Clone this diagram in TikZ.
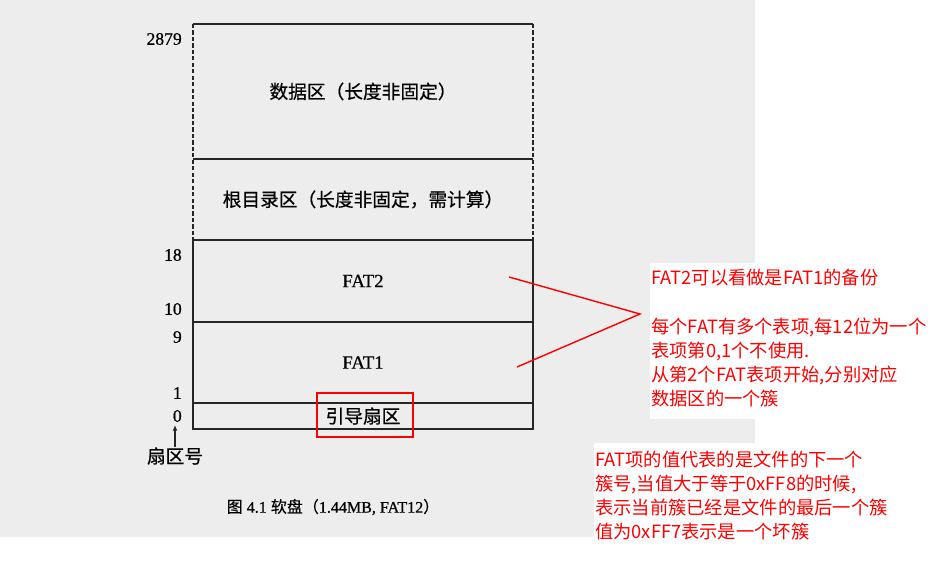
\documentclass[tikz,border=0pt]{standalone}
\usepackage{fontspec}
\setmainfont{Liberation Serif}
\newfontfamily\bookfont[FakeBold=0.7]{Liberation Serif}
\newfontfamily\cjk{Noto Sans CJK SC}
\newfontfamily\cjkbook[FakeBold=0.5]{Noto Sans CJK SC}
\usetikzlibrary{arrows.meta, positioning}

\begin{document}
\begin{tikzpicture}[x=0.025cm, y=-0.025cm, node distance=0pt, >={Latex[length=4pt,width=3.5pt]},
    zone/.style={minimum width=8.5cm, inner sep=0pt, outer sep=0pt, font=\bookfont\fontsize{13.3}{16}\selectfont},
    solidzone/.style={zone, draw=black!85, line width=1.1pt},
    edge/.style={draw=black!85, line width=1.1pt},
    num/.style={anchor=east, inner sep=0pt, font=\bookfont\fontsize{12.5}{14}\selectfont},
    note/.style={anchor=north west, align=left, inner sep=0pt, text=red, font=\cjk\fontsize{13}{16.9}\selectfont},
    redline/.style={draw=red, line width=1pt}]
    \fill[white] (0,0) rectangle (948,573);
    \fill[black!7] (0,0) rectangle (755,537);
    \fill[white] (650,263) rectangle (948,419);
    \fill[white] (594,443) rectangle (948,545);

    \node[solidzone, minimum height=0.65cm] (boot) at (363,416) {\cjkbook 引导扇区};
    \node[solidzone, minimum height=2.025cm, above=of boot] (fat1) {FAT1};
    \node[solidzone, minimum height=2.05cm, above=of fat1] (fat2) {FAT2};
    \node[zone, minimum height=2.025cm, above=of fat2] (root) {\cjkbook 根目录区（长度非固定，需计算）};
    \node[zone, minimum height=3.375cm, above=of root] (data) {\cjkbook 数据区（长度非固定）};

    \draw[edge] (data.north west) -- (data.north east);
    \draw[edge] (root.north west) -- (root.north east);
    \draw[edge, dash pattern=on 3pt off 1.6pt] (data.north west) -- (root.south west);
    \draw[edge, dash pattern=on 3pt off 1.6pt] (data.north east) -- (root.south east);

    \foreach \v/\y in {2879/39, 18/255, 10/309, 9/337, 1/393, 0/416}
        \node[num] (n\v) at (182,\y) {\v};
    \node[inner sep=0pt, font=\cjkbook\fontsize{13.3}{16}\selectfont] (secnum) at (175,456) {扇区号};
    \draw[->, black!85, line width=0.8pt, shorten >=2pt] (secnum) -- (secnum |- n0.south);

    \node[font=\bookfont\fontsize{11.4}{13}\selectfont] (caption) at (333,507) {{\cjkbook 图} 4.1 {\cjkbook 软盘（}1.44MB, FAT12{\cjkbook ）}};

    \node[draw=red, line width=1.3pt, minimum width=2.4cm, minimum height=1.1cm] (bootmark) at (365,415) {};

    \coordinate (fat2pt) at (509,277);
    \coordinate (fat1pt) at (517,367);
    \coordinate (tip) at (640,314);
    \draw[redline] (fat2pt) -- (tip) -- (fat1pt);

    \node[note] (fatnote) at (651,269) {FAT2可以看做是FAT1的备份\\[18pt]
        每个FAT有多个表项,每12位为一个\\
        表项第0,1个不使用.\\
        从第2个FAT表项开始,分别对应\\
        数据区的一个簇};
    \node[note] (valnote) at (595,451) {FAT项的值代表的是文件的下一个\\
        簇号,当值大于等于0xFF8的时候,\\
        表示当前簇已经是文件的最后一个簇\\
        值为0xFF7表示是一个坏簇};
\end{tikzpicture}
\end{document}
